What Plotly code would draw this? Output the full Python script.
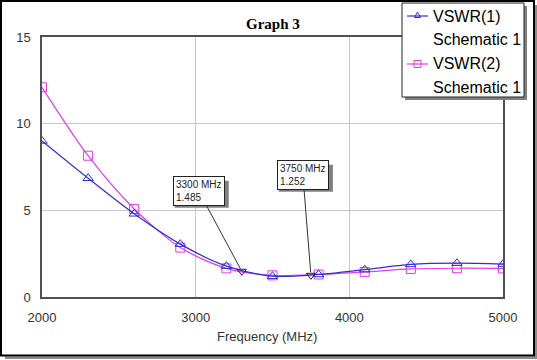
import plotly.graph_objects as go

# ---- data ----
freq = [2000, 2300, 2600, 2900, 3200, 3500, 3800, 4100, 4400, 4700, 5000]
vswr1 = [9.0, 6.85, 4.8, 3.05, 1.78, 1.2, 1.3, 1.58, 1.88, 1.95, 1.9]
vswr2 = [12.1, 8.15, 5.08, 2.85, 1.65, 1.25, 1.3, 1.45, 1.62, 1.66, 1.65]
marker_freq = [3300, 3750]
marker_val = [1.485, 1.252]
x_ticks = [2000, 3000, 4000, 5000]
y_ticks = [0, 5, 10, 15]
title_text = "Graph 3"
x_title = "Frequency (MHz)"
legend_names = [("VSWR(1)", "Schematic 1"), ("VSWR(2)", "Schematic 1")]

BLUE = "#2E2ED2"
PINK = "#E23CE2"

# ---- layout geometry (pixels) ----
W, H = 537, 360
L, R, T, B = 42, 34, 37, 63
PW, PH = W - L - R, H - T - B


def px(x):
    return (x - L) / PW


def py(y):
    return (H - B - y) / PH


fig = go.Figure()

fig.add_trace(go.Scatter(
    x=freq, y=vswr2, mode="lines+markers", line=dict(color=PINK, width=1.2, shape="spline", smoothing=0.8),
    marker=dict(symbol="square-open", size=9, color=PINK, line=dict(width=1)), showlegend=False))
fig.add_trace(go.Scatter(
    x=freq, y=vswr1, mode="lines+markers", line=dict(color=BLUE, width=1.2, shape="spline", smoothing=0.8),
    marker=dict(symbol="triangle-up-open", size=9, color=BLUE, line=dict(width=1)), showlegend=False))
fig.add_trace(go.Scatter(
    x=marker_freq, y=marker_val, mode="markers",
    marker=dict(symbol="triangle-down-open", size=8, color="#222", line=dict(width=1)),
    showlegend=False))

shapes = []
annotations = []

# marker annotation boxes with a drop shadow
offsets = [(-43, -80), (-8, -100)]
BW, BH = 54, 27
for f, v, (ax, ay) in zip(marker_freq, marker_val, offsets):
    txt = f"{f} MHz<br>{v:.3f}"
    shapes.append(dict(type="rect", xref="x", yref="y", xsizemode="pixel", ysizemode="pixel",
                       xanchor=f, yanchor=v,
                       x0=ax - BW / 2 + 3, x1=ax + BW / 2 + 3,
                       y0=-ay - BH / 2 - 3, y1=-ay + BH / 2 - 3,
                       fillcolor="#808080", line=dict(width=0), layer="above"))
    annotations.append(dict(
        x=f, y=v, xref="x", yref="y", ax=ax, ay=ay, text=txt, showarrow=True,
        arrowcolor="#333333", arrowwidth=1, arrowhead=0, standoff=3,
        font=dict(family="Liberation Sans", size=10, color="#222222"),
        bgcolor="white", bordercolor="#222222", borderwidth=1, borderpad=2, align="left"))

# title
annotations.append(dict(x=0.5, y=py(24), xref="paper", yref="paper", text=f"<b>{title_text}</b>",
                        showarrow=False, font=dict(family="Liberation Serif", size=15, color="black"),
                        xanchor="center", yanchor="middle"))
# x title
annotations.append(dict(x=px(267), y=py(336), xref="paper", yref="paper", text=x_title,
                        showarrow=False, font=dict(family="Liberation Sans", size=13, color="#333333"),
                        xanchor="center", yanchor="middle"))

# outer frame with shadow
shapes.append(dict(type="rect", xref="paper", yref="paper", x0=px(5), x1=px(537), y0=py(359), y1=py(356.5),
                   fillcolor="#8a8a8a", line=dict(width=0), layer="above"))
shapes.append(dict(type="rect", xref="paper", yref="paper", x0=px(535), x1=px(537), y0=py(359), y1=py(5),
                   fillcolor="#8a8a8a", line=dict(width=0), layer="above"))
shapes.append(dict(type="rect", xref="paper", yref="paper", x0=px(1), x1=px(534), y0=py(355.5), y1=py(1),
                   line=dict(color="black", width=2), layer="above"))

# legend box with shadow
shapes.append(dict(type="rect", xref="paper", yref="paper", x0=px(405), x1=px(527), y0=py(100), y1=py(6),
                   fillcolor="#808080", line=dict(width=0), layer="above"))
shapes.append(dict(type="rect", xref="paper", yref="paper", x0=px(402), x1=px(524), y0=py(97), y1=py(3),
                   fillcolor="white", line=dict(color="#222222", width=1), layer="above"))

legend_rows = [(16, 40, BLUE, "tri"), (64, 87, PINK, "sq")]
for (y1, y2, col, sym), (n1, n2) in zip(legend_rows, legend_names):
    shapes.append(dict(type="line", xref="paper", yref="paper", x0=px(407), x1=px(428), y0=py(y1), y1=py(y1),
                       line=dict(color=col, width=1.2), layer="above"))
    if sym == "tri":
        shapes.append(dict(type="path", xref="paper", yref="paper", xsizemode="pixel", ysizemode="pixel",
                           xanchor=px(417.5), yanchor=py(y1 - 0.5), path="M-3,-2 L3,-2 L0,3.5 Z",
                           line=dict(color=col, width=1), layer="above"))
    else:
        shapes.append(dict(type="rect", xref="paper", yref="paper", xsizemode="pixel", ysizemode="pixel",
                           xanchor=px(417.5), yanchor=py(y1), x0=-3.5, x1=3.5, y0=-3.5, y1=3.5,
                           line=dict(color=col, width=1), layer="above"))
    annotations.append(dict(x=px(431), y=py(y1), xref="paper", yref="paper", text=n1, showarrow=False,
                            xanchor="left", yanchor="middle",
                            font=dict(family="Liberation Sans", size=16, color="black")))
    annotations.append(dict(x=px(431), y=py(y2), xref="paper", yref="paper", text=n2, showarrow=False,
                            xanchor="left", yanchor="middle",
                            font=dict(family="Liberation Sans", size=16, color="black")))

fig.update_layout(
    width=W, height=H, margin=dict(l=L, r=R, t=T, b=B, autoexpand=False),
    paper_bgcolor="white", plot_bgcolor="white",
    shapes=shapes, annotations=annotations, showlegend=False,
    xaxis=dict(range=[2000, 5000], tickvals=x_ticks, showgrid=True, gridcolor="#C8C8C8", gridwidth=1,
               showline=True, linecolor="#505050", linewidth=1.5, mirror=True, zeroline=False,
               ticks="", ticklabelstandoff=8,
               tickfont=dict(family="Liberation Sans", size=13, color="#333333")),
    yaxis=dict(range=[0, 15], tickvals=y_ticks, showgrid=True, gridcolor="#C8C8C8", gridwidth=1,
               showline=True, linecolor="#505050", linewidth=1.5, mirror=True, zeroline=False,
               ticks="", ticklabelstandoff=7,
               tickfont=dict(family="Liberation Sans", size=13, color="#333333")),
)

fig.write_html("out.html", config={"displayModeBar": False},
               post_script="document.body.style.margin='0';")
